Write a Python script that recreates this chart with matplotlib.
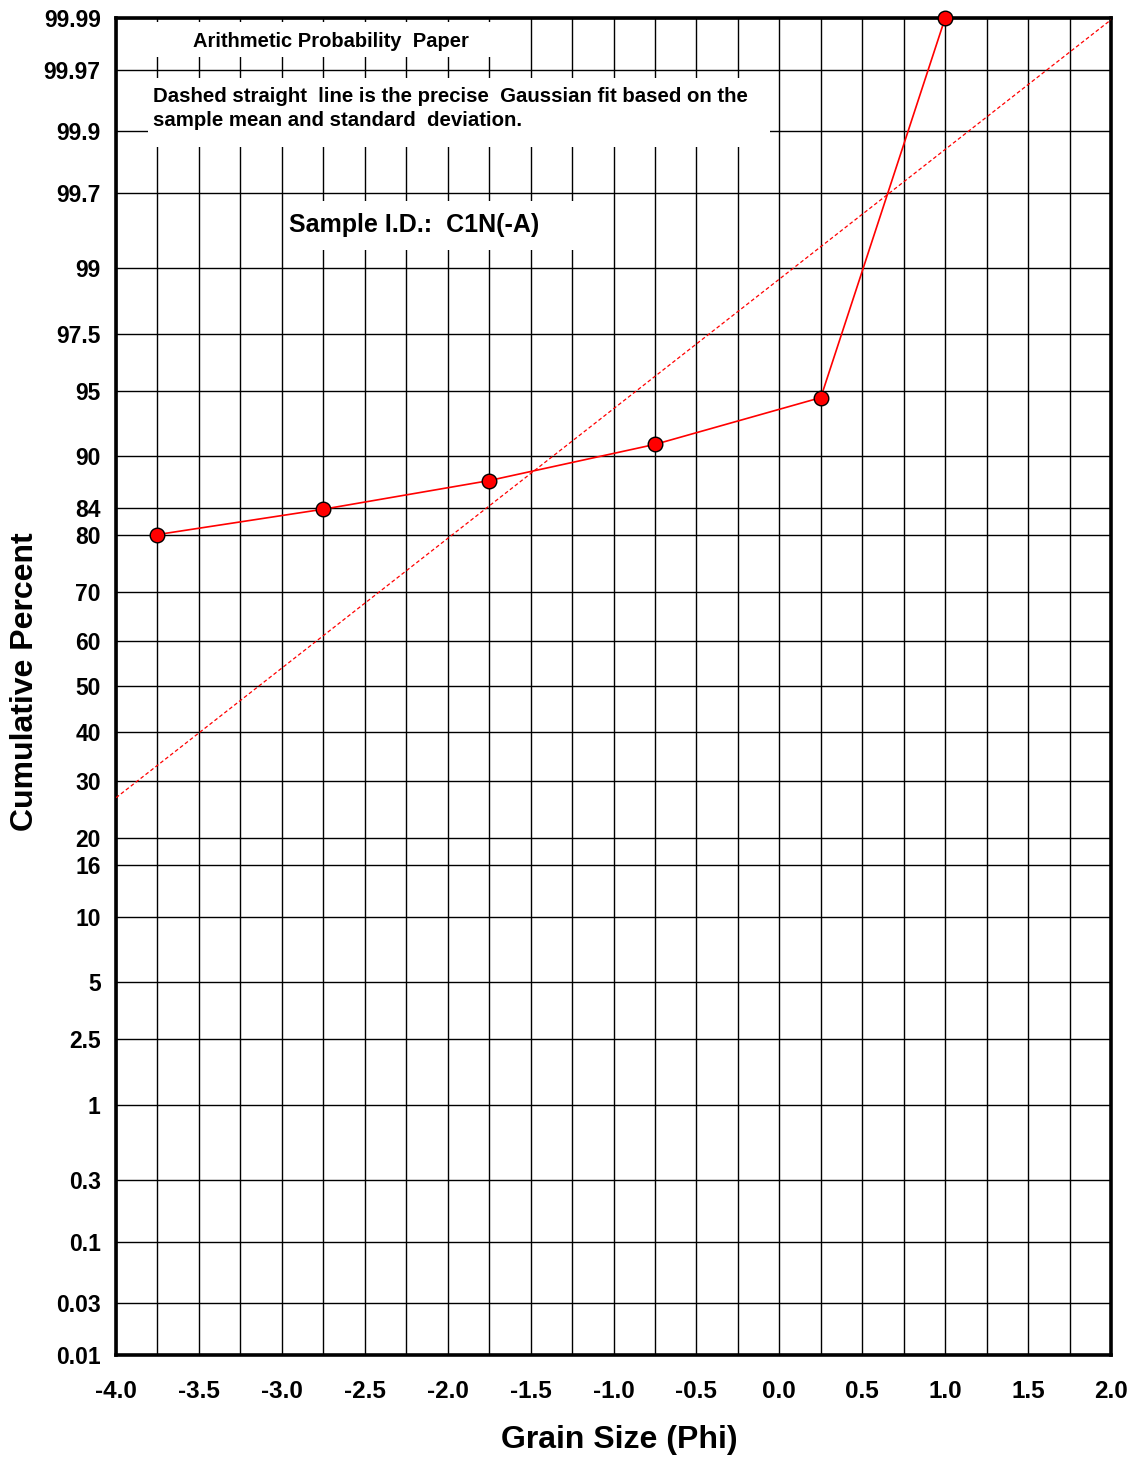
import numpy as np
import matplotlib
matplotlib.use("Agg")
import matplotlib.pyplot as plt
from matplotlib.patches import Rectangle
from matplotlib.ticker import FixedLocator, MultipleLocator
from statistics import NormalDist

plt.rcParams["font.family"] = ["Liberation Sans", "DejaVu Sans"]
plt.rcParams["font.weight"] = "bold"

# sample data (grain size in phi vs cumulative percent)
phi = [-3.75, -2.75, -1.75, -0.75, 0.25, 1.0]
cum_pct = [80.1, 83.8, 87.4, 91.1, 94.6, 99.99]

# end points of the gaussian fit line
fit_phi = [-4.0, 2.0]
fit_pct = [26.8, 99.9896]

y_ticks = [0.01, 0.03, 0.1, 0.3, 1, 2.5, 5, 10, 16, 20, 30, 40, 50,
           60, 70, 80, 84, 90, 95, 97.5, 99, 99.7, 99.9, 99.97, 99.99]
y_labels = ["0.01", "0.03", "0.1", "0.3", "1", "2.5", "5", "10", "16", "20",
            "30", "40", "50", "60", "70", "80", "84", "90", "95", "97.5",
            "99", "99.7", "99.9", "99.97", "99.99"]
x_ticks = [-4.0, -3.5, -3.0, -2.5, -2.0, -1.5, -1.0, -0.5, 0.0, 0.5, 1.0, 1.5, 2.0]

nd = NormalDist()
_ppf = np.vectorize(nd.inv_cdf, otypes=[float])
_cdf = np.vectorize(nd.cdf, otypes=[float])


def prob_fwd(p):
    p = np.clip(np.asarray(p, dtype=float) / 100.0, 1e-9, 1 - 1e-9)
    return _ppf(p)


def prob_inv(z):
    return 100.0 * _cdf(np.asarray(z, dtype=float))


W, H = 1143, 1469
fig = plt.figure(figsize=(W / 100, H / 100), dpi=100)
ax = fig.add_axes([116 / W, 1 - 1355 / H, 995 / W, 1337 / H])

ax.set_yscale("function", functions=(prob_fwd, prob_inv))
ax.set_ylim(0.01, 99.99)
ax.set_xlim(-4.0, 2.0)

ax.yaxis.set_major_locator(FixedLocator(y_ticks))
ax.set_yticklabels(y_labels)
ax.yaxis.set_minor_locator(FixedLocator([]))
ax.set_xticks(x_ticks)
ax.set_xticklabels([f"{v:.1f}" for v in x_ticks])
ax.xaxis.set_minor_locator(MultipleLocator(0.25))

ax.tick_params(axis="y", which="both", length=0, pad=11, labelsize=16.5)
ax.tick_params(axis="x", which="both", length=0, pad=18, labelsize=17.5)
for lab in ax.get_xticklabels() + ax.get_yticklabels():
    lab.set_fontweight("bold")

ax.set_axisbelow(True)
ax.grid(True, axis="y", which="major", color="black", lw=1.0)
ax.grid(True, axis="x", which="both", color="black", lw=1.0)

for sp in ax.spines.values():
    sp.set_linewidth(2.6)
    sp.set_color("black")

# white label boxes that blank out the grid
boxes = [(0.0342, 0.9708, 0.352, 0.0262),
         (0.0322, 0.9035, 0.625, 0.0515),
         (0.1685, 0.8265, 0.3175, 0.0365)]
for bx, by, bw, bh in boxes:
    ax.add_patch(Rectangle((bx, by), bw, bh, transform=ax.transAxes,
                           facecolor="white", edgecolor="none", zorder=1))

ax.text(0.0774, 0.9825, "Arithmetic Probability  Paper", transform=ax.transAxes,
        ha="left", va="center", fontsize=14.5, fontweight="bold", zorder=4)
ax.text(0.0372, 0.9412, "Dashed straight  line is the precise  Gaussian fit based on the",
        transform=ax.transAxes, ha="left", va="center", fontsize=14.7,
        fontweight="bold", zorder=4)
ax.text(0.0372, 0.9232, "sample mean and standard  deviation.",
        transform=ax.transAxes, ha="left", va="center", fontsize=14.7,
        fontweight="bold", zorder=4)
ax.text(0.1739, 0.8454, "Sample I.D.:  C1N(-A)", transform=ax.transAxes,
        ha="left", va="center", fontsize=18, fontweight="bold", zorder=4)

# gaussian fit (dashed) and data
ax.plot(fit_phi, fit_pct, color="red", lw=0.9, linestyle=(0, (3, 2)), zorder=3)
ax.plot(phi, cum_pct, color="red", lw=1.2, marker="o", markersize=10.5,
        markerfacecolor="red", markeredgecolor="black", markeredgewidth=1.0,
        zorder=5, clip_on=False)

fig.text(619.5 / W, 1 - 1440 / H, "Grain Size (Phi)", ha="center", va="center",
         fontsize=23, fontweight="bold")
fig.text(25 / W, 1 - 681.5 / H, "Cumulative Percent", ha="center", va="center",
         rotation=90, fontsize=23, fontweight="bold")

fig.savefig("out.png", dpi=100, facecolor="white")
